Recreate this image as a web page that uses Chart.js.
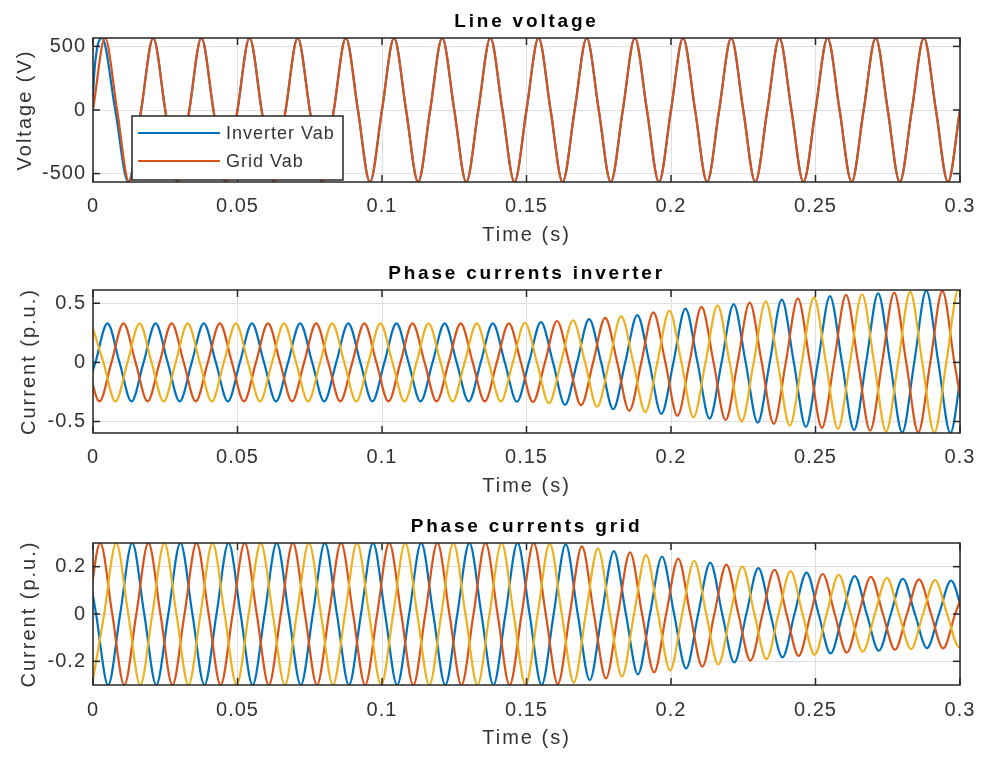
<!DOCTYPE html>
<html>
<head>
<meta charset="utf-8">
<script src="https://cdn.jsdelivr.net/npm/chart.js"></script>
<style>
  body { margin: 0; background: #fff; }
  canvas { position: absolute; left: 0; }
</style>
</head>
<body>
<canvas id="c1" width="982" height="250" style="top:0px"></canvas>
<canvas id="c2" width="982" height="255" style="top:250px"></canvas>
<canvas id="c3" width="982" height="254" style="top:505px"></canvas>
<script>
// axes
const xTicks = [0, 0.05, 0.1, 0.15, 0.2, 0.25, 0.3];
const xTickLabels = ["0", "0.05", "0.1", "0.15", "0.2", "0.25", "0.3"];
const vTicks = [-500, 0, 500];
const vTickLabels = ["-500", "0", "500"];
const invTicks = [-0.5, 0, 0.5];
const invTickLabels = ["-0.5", "0", "0.5"];
const gridTicks = [-0.2, 0, 0.2];
const gridTickLabels = ["-0.2", "0", "0.2"];
const legendLabels = ["Inverter Vab", "Grid Vab"];

// samples every quarter period of the 60 Hz waveforms (zero, peak, zero, trough ...)
const QT = 1 / 240;

// line voltage
const vabInvStartT = [0, 0.0004, 0.0031, 0.0077, 0.0122];
const vabInvStartV = [90, 280, 566, 0, -566];
const vabInvT0 = 1 / 60;
const vabInv = [
  0, 566, 0, -566, 0, 566, 0, -566, 0, 566, 0, -566, 0, 566, 0, -566,
  0, 566, 0, -566, 0, 566, 0, -566, 0, 566, 0, -566, 0, 566, 0, -566,
  0, 566, 0, -566, 0, 566, 0, -566, 0, 566, 0, -566, 0, 566, 0, -566,
  0, 566, 0, -566, 0, 566, 0, -566, 0, 566, 0, -566, 0, 566, 0, -566,
  0, 566, 0, -566, 0
];
const vabGridT0 = 0;
const vabGrid = [
  0, 566, 0, -566, 0, 566, 0, -566, 0, 566, 0, -566, 0, 566, 0, -566,
  0, 566, 0, -566, 0, 566, 0, -566, 0, 566, 0, -566, 0, 566, 0, -566,
  0, 566, 0, -566, 0, 566, 0, -566, 0, 566, 0, -566, 0, 566, 0, -566,
  0, 566, 0, -566, 0, 566, 0, -566, 0, 566, 0, -566, 0, 566, 0, -566,
  0, 566, 0, -566, 0, 566, 0, -566, 0
];

// inverter phase currents
const iInvAT0 = -0.00333;
const iInvA = [
  -0.33, 0, 0.33, 0, -0.33, 0, 0.33, 0, -0.33, 0, 0.33, 0,
  -0.33, 0, 0.33, 0, -0.33, 0, 0.33, 0, -0.33, 0, 0.33, 0,
  -0.33, 0, 0.33, 0, -0.33, 0, 0.33, 0, -0.33, 0, 0.33, 0,
  -0.333, 0, 0.34, 0, -0.358, 0, 0.365, 0, -0.395, 0, 0.40, 0,
  -0.435, 0, 0.455, 0, -0.476, 0, 0.493, 0, -0.51, 0, 0.53, 0,
  -0.545, 0, 0.56, 0, -0.572, 0, 0.584, 0, -0.592, 0, 0.608, 0,
  -0.596, 0
];
const iInvBT0 = -0.00194;
const iInvB = [
  0, -0.33, 0, 0.33, 0, -0.33, 0, 0.33, 0, -0.33, 0, 0.33,
  0, -0.33, 0, 0.33, 0, -0.33, 0, 0.33, 0, -0.33, 0, 0.33,
  0, -0.33, 0, 0.33, 0, -0.33, 0, 0.33, 0, -0.33, 0, 0.33,
  0, -0.335, 0, 0.35, 0, -0.362, 0, 0.377, 0, -0.41, 0, 0.422,
  0, -0.452, 0, 0.47, 0, -0.487, 0, 0.505, 0, -0.52, 0, 0.542,
  0, -0.553, 0, 0.57, 0, -0.578, 0, 0.59, 0, -0.592, 0, 0.605,
  0, -0.597
];
const iInvCT0 = -0.00056;
const iInvC = [
  0.33, 0, -0.33, 0, 0.33, 0, -0.33, 0, 0.33, 0, -0.33, 0,
  0.33, 0, -0.33, 0, 0.33, 0, -0.33, 0, 0.33, 0, -0.33, 0,
  0.33, 0, -0.33, 0, 0.33, 0, -0.33, 0, 0.33, 0, -0.33, 0,
  0.335, 0, -0.345, 0, 0.355, 0, -0.375, 0, 0.39, 0, -0.42, 0,
  0.437, 0, -0.465, 0, 0.482, 0, -0.5, 0, 0.515, 0, -0.535, 0,
  0.55, 0, -0.563, 0, 0.576, 0, -0.585, 0, 0.596, 0, -0.595, 0,
  0.612, 0
];

// grid phase currents
const iGridAT0 = -0.0031;
const iGridA = [
  0.3, 0, -0.3, 0, 0.3, 0, -0.3, 0, 0.3, 0, -0.3, 0,
  0.3, 0, -0.3, 0, 0.3, 0, -0.3, 0, 0.3, 0, -0.3, 0,
  0.3, 0, -0.3, 0, 0.3, 0, -0.3, 0, 0.3, 0, -0.3, 0,
  0.3, 0, -0.3, 0,
  0.294, 0, -0.28, 0, 0.266, 0, -0.255, 0, 0.243, 0, -0.23, 0,
  0.217, 0, -0.205, 0, 0.194, 0, -0.183, 0, 0.175, 0, -0.167, 0,
  0.16, 0, -0.155, 0, 0.149, 0, -0.144, 0,
  0.141, 0
];
const iGridBT0 = -0.00167;
const iGridB = [
  0, 0.3, 0, -0.3, 0, 0.3, 0, -0.3, 0, 0.3, 0, -0.3,
  0, 0.3, 0, -0.3, 0, 0.3, 0, -0.3, 0, 0.3, 0, -0.3,
  0, 0.3, 0, -0.3, 0, 0.3, 0, -0.3, 0, 0.3, 0, -0.3,
  0, 0.3, 0, -0.296, 0, 0.286, 0, -0.272, 0, 0.26, 0, -0.247,
  0, 0.234, 0, -0.222, 0, 0.209, 0, -0.197, 0, 0.187, 0, -0.177,
  0, 0.169, 0, -0.163, 0, 0.157, 0, -0.151, 0, 0.146, 0, -0.145,
  0, 0.139
];
const iGridCT0 = -0.0003;
const iGridC = [
  -0.3, 0, 0.3, 0, -0.3, 0, 0.3, 0, -0.3, 0, 0.3, 0,
  -0.3, 0, 0.3, 0, -0.3, 0, 0.3, 0, -0.3, 0, 0.3, 0,
  -0.3, 0, 0.3, 0, -0.3, 0, 0.3, 0, -0.3, 0, 0.3, 0,
  -0.3, 0, 0.298, 0, -0.29, 0, 0.277, 0, -0.264, 0, 0.25, 0,
  -0.238, 0, 0.225, 0, -0.213, 0, 0.2, 0, -0.191, 0, 0.181, 0,
  -0.172, 0, 0.165, 0, -0.159, 0, 0.153, 0, -0.148, 0, 0.143, 0,
  -0.14, 0
];

const BLUE = "#0072BD", ORANGE = "#D95319", YELLOW = "#EDB120";
const FONT = '"Liberation Sans", Arial, Helvetica, sans-serif';
const TXT = "#333333";
const AXC = "#262626";
const GRID = "#dfdfdf";

function pts(t0, vals) {
  return vals.map((v, k) => ({ x: t0 + k * QT, y: v }));
}

function line(ctx, x1, y1, x2, y2) {
  ctx.beginPath(); ctx.moveTo(x1, y1); ctx.lineTo(x2, y2); ctx.stroke();
}

function decor(p) {
  return {
    id: "decor",
    beforeDraw(chart) { chart.ctx.letterSpacing = "1px"; },
    afterDatasetsDraw(chart) {
      const ctx = chart.ctx;
      const { left, right, top, bottom } = chart.chartArea;
      const xs = chart.scales.x, ys = chart.scales.y;
      ctx.save();
      ctx.strokeStyle = AXC;
      ctx.lineWidth = 1.5;
      ctx.strokeRect(left, top, right - left, bottom - top);
      xTicks.forEach(v => {
        const x = xs.getPixelForValue(v);
        line(ctx, x, bottom, x, bottom - 7);
        line(ctx, x, top, x, top + 7);
      });
      p.yTicks.forEach(v => {
        const y = ys.getPixelForValue(v);
        line(ctx, left, y, left + 7, y);
        line(ctx, right, y, right - 7, y);
      });
      ctx.restore();
    },
    afterDraw(chart) {
      const ctx = chart.ctx;
      const { left, right, top, bottom } = chart.chartArea;
      const cx = (left + right) / 2;
      ctx.save();
      ctx.textAlign = "center";
      ctx.textBaseline = "alphabetic";

      // title
      ctx.letterSpacing = "2.8px";
      ctx.font = "bold 19px " + FONT;
      ctx.fillStyle = "#000";
      ctx.fillText(p.title, cx, top - 11.5);

      // axis titles
      ctx.letterSpacing = "2px";
      ctx.font = "20px " + FONT;
      ctx.fillStyle = TXT;
      ctx.fillText("Time (s)", cx, bottom + 59);
      ctx.save();
      ctx.translate(p.ylabX, (top + bottom) / 2);
      ctx.rotate(-Math.PI / 2);
      ctx.fillText(p.ylabel, 0, 0);
      ctx.restore();

      // legend
      if (p.legend) {
        const bx = 132, by = 116, bw = 211, bh = 64;
        ctx.fillStyle = "#fff";
        ctx.fillRect(bx, by, bw, bh);
        ctx.strokeStyle = AXC;
        ctx.lineWidth = 1.5;
        ctx.strokeRect(bx, by, bw, bh);
        const rows = [[BLUE, 133], [ORANGE, 161]];
        ctx.letterSpacing = "1px";
        ctx.font = "18px " + FONT;
        ctx.textAlign = "left";
        ctx.textBaseline = "middle";
        rows.forEach(([c, y], i) => {
          ctx.strokeStyle = c;
          ctx.lineWidth = 2.2;
          line(ctx, 138, y, 220, y);
          ctx.fillStyle = TXT;
          ctx.fillText(legendLabels[i], 226, y + 1);
        });
      }
      ctx.restore();
    }
  };
}

function makePanel(id, p) {
  new Chart(document.getElementById(id), {
    type: "line",
    data: { datasets: p.datasets },
    options: {
      responsive: false,
      animation: false,
      events: [],
      layout: { padding: { top: p.top, right: 22, bottom: 0, left: 0 } },
      plugins: { legend: { display: false }, tooltip: { enabled: false } },
      elements: {
        point: { radius: 0 },
        line: { borderWidth: 2.2, cubicInterpolationMode: "monotone" }
      },
      scales: {
        x: {
          type: "linear", min: 0, max: 0.3,
          afterBuildTicks: s => { s.ticks = xTicks.map(v => ({ value: v })); },
          afterFit: s => { s.height = p.xh; s.paddingLeft = 0; s.paddingRight = 0; },
          grid: { color: GRID, drawTicks: false },
          border: { display: false },
          ticks: {
            autoSkip: false, maxRotation: 0, padding: p.xpad, color: TXT,
            font: { family: FONT, size: 20 },
            callback: (v, i) => xTickLabels[i]
          }
        },
        y: {
          type: "linear", min: p.ymin, max: p.ymax,
          afterBuildTicks: s => { s.ticks = p.yTicks.map(v => ({ value: v })); },
          afterFit: s => { s.width = 93; s.paddingTop = 0; s.paddingBottom = 0; },
          grid: { color: GRID, drawTicks: false },
          border: { display: false },
          ticks: {
            padding: 7, color: TXT,
            font: { family: FONT, size: 20 },
            callback: (v, i) => p.yTickLabels[i]
          }
        }
      }
    },
    plugins: [decor(p)]
  });
}

const vabInvPts = vabInvStartT.map((t, i) => ({ x: t, y: vabInvStartV[i] }))
  .concat(pts(vabInvT0, vabInv));

makePanel("c1", {
  title: "Line voltage", ylabel: "Voltage (V)", ylabX: 31,
  top: 38, xh: 68, xpad: 12,
  ymin: -566, ymax: 566, yTicks: vTicks, yTickLabels: vTickLabels,
  legend: true,
  datasets: [
    { label: legendLabels[1], data: pts(vabGridT0, vabGrid), borderColor: ORANGE },
    { label: legendLabels[0], data: vabInvPts, borderColor: BLUE }
  ]
});

makePanel("c2", {
  title: "Phase currents inverter", ylabel: "Current (p.u.)", ylabX: 35,
  top: 40, xh: 72, xpad: 12,
  ymin: -0.597, ymax: 0.612, yTicks: invTicks, yTickLabels: invTickLabels,
  datasets: [
    { data: pts(iInvCT0, iInvC), borderColor: YELLOW },
    { data: pts(iInvBT0, iInvB), borderColor: ORANGE },
    { data: pts(iInvAT0, iInvA), borderColor: BLUE }
  ]
});

makePanel("c3", {
  title: "Phase currents grid", ylabel: "Current (p.u.)", ylabX: 35,
  top: 38, xh: 74, xpad: 13,
  ymin: -0.3, ymax: 0.3, yTicks: gridTicks, yTickLabels: gridTickLabels,
  datasets: [
    { data: pts(iGridCT0, iGridC), borderColor: YELLOW },
    { data: pts(iGridBT0, iGridB), borderColor: ORANGE },
    { data: pts(iGridAT0, iGridA), borderColor: BLUE }
  ]
});
</script>
</body>
</html>
